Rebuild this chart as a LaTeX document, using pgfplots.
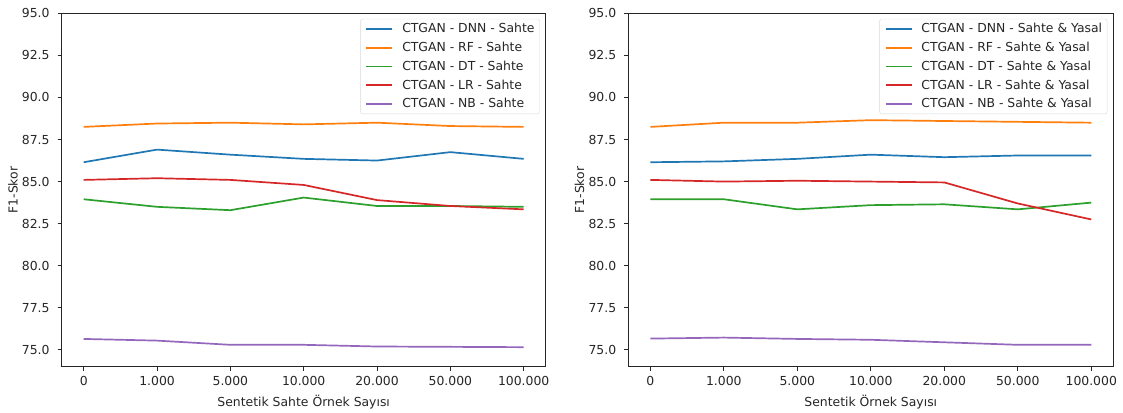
\documentclass[border=0pt]{standalone}
\usepackage{fontspec}
\setmainfont{DejaVu Sans}
\usepackage{pgfplots}
\pgfplotsset{compat=1.18}
\definecolor{c0}{HTML}{1F77B4}
\definecolor{c1}{HTML}{FF7F0E}
\definecolor{c2}{HTML}{2CA02C}
\definecolor{c3}{HTML}{D62728}
\definecolor{c4}{HTML}{9467BD}
\newcommand{\fs}{\fontsize{12.4}{14.5}\selectfont}
\pgfplotsset{
  ln/.style={draw=#1, line width=1.7pt},
  f1style/.style={
    scale only axis, width=484pt, height=353.4pt,
    xmin=-0.3, xmax=6.3, ymin=74.0, ymax=95.0,
    xtick={0,...,6},
    xticklabels={0,1.000,5.000,10.000,20.000,50.000,100.000},
    ytick={75,77.5,...,95},
    yticklabel style={/pgf/number format/fixed, /pgf/number format/fixed zerofill,
      /pgf/number format/precision=1, xshift=-4.4pt},
    xticklabel style={yshift=-2pt},
    /pgf/number format/assume math mode=true,
    tick label style={font=\fs, text=black!85},
    label style={font=\fs, text=black!85},
    xlabel shift=2pt, ylabel shift=-2.7pt,
    tick align=outside, tick pos=left, major tick length=4.2pt,
    every tick/.style={black!85, line width=1pt},
    axis line style={black!85, line width=1pt},
    ylabel={F1-Skor},
    legend style={at={(1,1)}, anchor=north east, xshift=-6pt, yshift=-5.5pt,
      draw=black!15, rounded corners=2pt,
      font=\fs, text=black!85, row sep=3.8pt, column sep=9pt,
      inner xsep=5pt, inner ysep=2.5pt, nodes={inner xsep=0pt},
      fill=white, fill opacity=0.8, text opacity=1},
    legend cell align=left,
    legend image code/.code={\draw[#1] (0pt,0pt) -- (26pt,0pt);},
  }
}
\begin{document}
\begin{tikzpicture}
\path (0,0) rectangle (1123pt,412pt);
\begin{axis}[f1style, at={(61.7pt,45.3pt)}, anchor=south west, xlabel={Sentetik Sahte Örnek Sayısı}]
\addplot[ln=c0] coordinates {(0,86.15) (1,86.9) (2,86.6) (3,86.35) (4,86.25) (5,86.75) (6,86.35)};
\addlegendentry{CTGAN - DNN - Sahte}
\addplot[ln=c1] coordinates {(0,88.25) (1,88.45) (2,88.5) (3,88.4) (4,88.5) (5,88.3) (6,88.25)};
\addlegendentry{CTGAN - RF - Sahte}
\addplot[ln=c2] coordinates {(0,83.95) (1,83.5) (2,83.3) (3,84.05) (4,83.55) (5,83.55) (6,83.5)};
\addlegendentry{CTGAN - DT - Sahte}
\addplot[ln=c3] coordinates {(0,85.1) (1,85.2) (2,85.1) (3,84.8) (4,83.9) (5,83.55) (6,83.35)};
\addlegendentry{CTGAN - LR - Sahte}
\addplot[ln=c4] coordinates {(0,75.65) (1,75.55) (2,75.3) (3,75.3) (4,75.2) (5,75.18) (6,75.16)};
\addlegendentry{CTGAN - NB - Sahte}
\end{axis}
\begin{axis}[f1style, at={(628.3pt,45.3pt)}, anchor=south west, width=485pt, xlabel={Sentetik Örnek Sayısı}]
\addplot[ln=c0] coordinates {(0,86.15) (1,86.2) (2,86.35) (3,86.6) (4,86.45) (5,86.55) (6,86.55)};
\addlegendentry{CTGAN - DNN - Sahte \& Yasal}
\addplot[ln=c1] coordinates {(0,88.25) (1,88.5) (2,88.5) (3,88.65) (4,88.6) (5,88.55) (6,88.5)};
\addlegendentry{CTGAN - RF - Sahte \& Yasal}
\addplot[ln=c2] coordinates {(0,83.95) (1,83.95) (2,83.35) (3,83.6) (4,83.65) (5,83.35) (6,83.75)};
\addlegendentry{CTGAN - DT - Sahte \& Yasal}
\addplot[ln=c3] coordinates {(0,85.1) (1,85.0) (2,85.05) (3,85.0) (4,84.95) (5,83.7) (6,82.75)};
\addlegendentry{CTGAN - LR - Sahte \& Yasal}
\addplot[ln=c4] coordinates {(0,75.67) (1,75.73) (2,75.65) (3,75.6) (4,75.45) (5,75.3) (6,75.3)};
\addlegendentry{CTGAN - NB - Sahte \& Yasal}
\end{axis}
\end{tikzpicture}
\end{document}
